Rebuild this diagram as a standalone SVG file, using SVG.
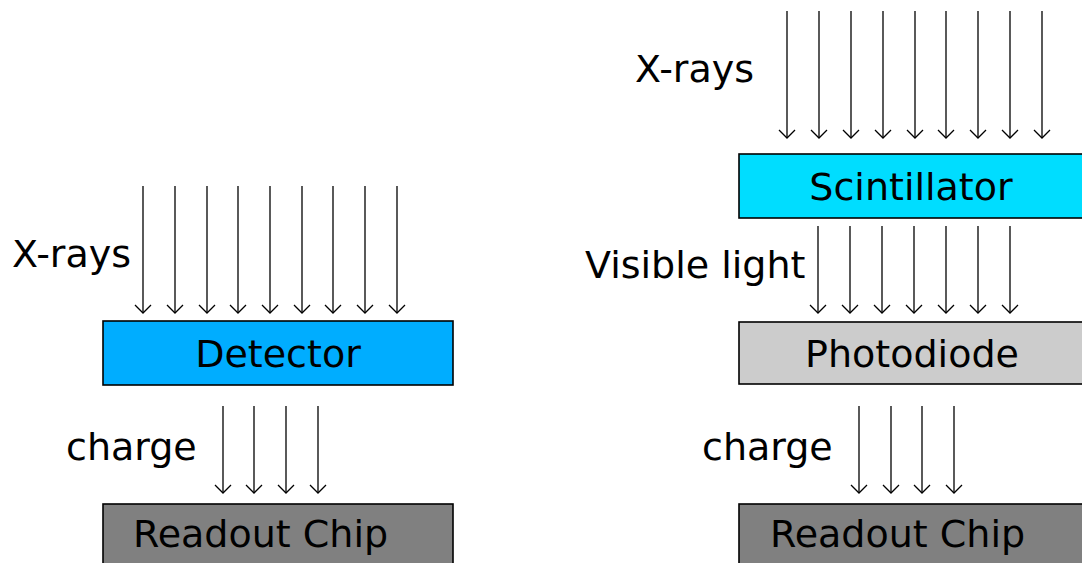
<svg xmlns="http://www.w3.org/2000/svg" width="1082" height="563" viewBox="0 0 1082 563">
<style>
text{font-family:"DejaVu Sans","Verdana",sans-serif;font-size:38px;fill:#000}
.box{stroke:#000;stroke-width:1.6}
.arr line{stroke:#000;stroke-width:1.3;marker-end:url(#ah)}
</style>
<defs>
<marker id="ah" markerUnits="userSpaceOnUse" markerWidth="20" markerHeight="20" viewBox="0 0 20 20" refX="10" refY="10" orient="auto">
<path d="M2,2 L10,10 L2,18" fill="none" stroke="#000" stroke-width="1.3"/>
</marker>
</defs>
<rect width="1082" height="563" fill="#fff"/>
<g id="detector"><rect class="box" x="103" y="321" width="350" height="64" fill="#00ADFF"/><text x="278" y="367" text-anchor="middle">Detector</text></g>
<g id="readout-left"><rect class="box" x="103" y="504" width="350" height="80" fill="#808080"/><text x="133" y="547">Readout Chip</text></g>
<g id="scintillator"><rect class="box" x="739" y="154" width="360" height="64" fill="#00DDFF"/><text x="911" y="200" text-anchor="middle">Scintillator</text></g>
<g id="photodiode"><rect class="box" x="739" y="322" width="360" height="62" fill="#CCCCCC"/><text x="912" y="367" text-anchor="middle">Photodiode</text></g>
<g id="readout-right"><rect class="box" x="739" y="504" width="360" height="80" fill="#808080"/><text x="770" y="547">Readout Chip</text></g>
<g id="labels">
<text x="12" y="267">X-rays</text>
<text x="66" y="460">charge</text>
<text x="635" y="82">X-rays</text>
<text x="585" y="278">Visible light</text>
<text x="702" y="460">charge</text>
</g>
<g id="connectors" class="arr">
<line x1="143" y1="186" x2="143" y2="313"/><line x1="175" y1="186" x2="175" y2="313"/><line x1="207" y1="186" x2="207" y2="313"/><line x1="238" y1="186" x2="238" y2="313"/><line x1="270" y1="186" x2="270" y2="313"/><line x1="302" y1="186" x2="302" y2="313"/><line x1="333" y1="186" x2="333" y2="313"/><line x1="365" y1="186" x2="365" y2="313"/><line x1="397" y1="186" x2="397" y2="313"/>
<line x1="223" y1="406" x2="223" y2="493"/><line x1="254" y1="406" x2="254" y2="493"/><line x1="286" y1="406" x2="286" y2="493"/><line x1="318" y1="406" x2="318" y2="493"/>
<line x1="787" y1="11" x2="787" y2="138"/><line x1="819" y1="11" x2="819" y2="138"/><line x1="851" y1="11" x2="851" y2="138"/><line x1="883" y1="11" x2="883" y2="138"/><line x1="915" y1="11" x2="915" y2="138"/><line x1="946" y1="11" x2="946" y2="138"/><line x1="978" y1="11" x2="978" y2="138"/><line x1="1010" y1="11" x2="1010" y2="138"/><line x1="1042" y1="11" x2="1042" y2="138"/>
<line x1="818" y1="226" x2="818" y2="313"/><line x1="850" y1="226" x2="850" y2="313"/><line x1="882" y1="226" x2="882" y2="313"/><line x1="914" y1="226" x2="914" y2="313"/><line x1="946" y1="226" x2="946" y2="313"/><line x1="978" y1="226" x2="978" y2="313"/><line x1="1010" y1="226" x2="1010" y2="313"/>
<line x1="859" y1="406" x2="859" y2="493"/><line x1="891" y1="406" x2="891" y2="493"/><line x1="922" y1="406" x2="922" y2="493"/><line x1="954" y1="406" x2="954" y2="493"/>
</g>
</svg>
